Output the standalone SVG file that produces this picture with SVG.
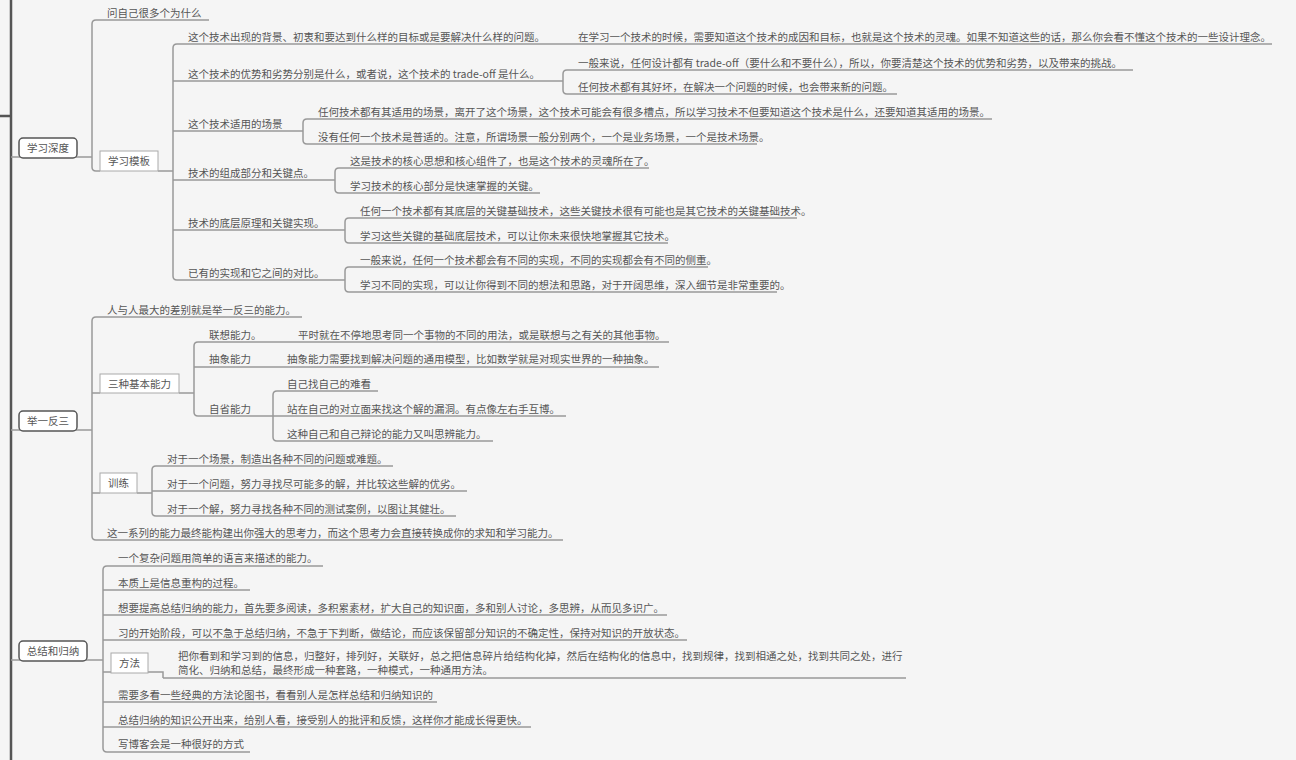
<svg xmlns="http://www.w3.org/2000/svg" width="1296" height="760" viewBox="0 0 1296 760">
  <style>
    .t { font-family: "Noto Sans CJK SC", "Noto Sans", sans-serif; font-size: 10.5px; fill: #555; }
    .c { text-anchor: middle; }
    .ln { stroke: #999; stroke-width: 1.5; fill: none; }
    .spine { stroke: #555; stroke-width: 2.5; fill: none; }
    .main { fill: #fff; stroke: #555; stroke-width: 1.5; }
    .sub { fill: #fff; stroke: #aaa; stroke-width: 1; }
  </style>
  <rect width="1296" height="760" fill="#f5f5f5"/>

  <!-- branch lines: spine, brackets and joins -->
  <g id="connectors">
    <path class="spine" d="M11 0 V760 M0 116 H11"/>
    <path class="ln" d="M11 157 H92 M11 430 H92 M11 660 H103"/>
    <!-- 学习深度 -->
    <path class="ln" d="M96 20 Q92 20 92 24 V167 Q92 171 96 171 H100"/>
    <path class="ln" d="M158 171 H173"/>
    <!-- 学习模板 -->
    <path class="ln" d="M177 44 Q173 44 173 48 V276 Q173 280 177 280"/>
    <path class="ln" d="M550 81 H563 M567 70 Q563 70 563 74 V90 Q563 94 567 94"/>
    <path class="ln" d="M289 131 H303 M307 119 Q303 119 303 123 V140 Q303 144 307 144"/>
    <path class="ln" d="M320 180 H335 M339 168 Q335 168 335 172 V189 Q335 193 339 193"/>
    <path class="ln" d="M330 230 H345 M349 218 Q345 218 345 222 V239 Q345 243 349 243"/>
    <path class="ln" d="M330 280 H345 M349 267 Q345 267 345 271 V288 Q345 292 349 292"/>
    <!-- 举一反三 -->
    <path class="ln" d="M96 317 Q92 317 92 321 V536 Q92 540 96 540"/>
    <path class="ln" d="M92 393 H100 M92 493 H100"/>
    <path class="ln" d="M179 393 H194 M198 342 Q194 342 194 346 V412 Q194 416 198 416"/>
    <path class="ln" d="M277 391 Q273 391 273 395 V437 Q273 441 277 441"/>
    <path class="ln" d="M137 493 H152 M156 466 Q152 466 152 470 V512 Q152 516 156 516"/>
    <!-- 总结和归纳 -->
    <path class="ln" d="M107 566 Q103 566 103 570 V748 Q103 752 107 752"/>
    <path class="ln" d="M103 672 H111 M148 672 H163 V678"/>
  </g>

  <!-- 学习深度 -->
  <g id="topic-depth">
    <rect class="main" x="19" y="138" width="58" height="20" rx="4"/>
    <text class="t c" x="48" y="152">学习深度</text>
  </g>
  <g id="depth-why">
    <path class="ln" d="M96 20 H209"/>
    <text class="t" x="107" y="17">问自己很多个为什么</text>
  </g>
  <g id="depth-template">
    <rect class="sub" x="100" y="151" width="58" height="20"/>
    <text class="t c" x="129" y="165">学习模板</text>
  </g>
  <g id="tpl-background">
    <path class="ln" d="M177 44 H1272"/>
    <text class="t" x="188" y="41">这个技术出现的背景、初衷和要达到什么样的目标或是要解决什么样的问题。</text>
  </g>
  <g id="tpl-background-note">
    <text class="t" x="578" y="41">在学习一个技术的时候，需要知道这个技术的成因和目标，也就是这个技术的灵魂。如果不知道这些的话，那么你会看不懂这个技术的一些设计理念。</text>
  </g>
  <g id="tpl-tradeoff">
    <path class="ln" d="M173 81 H550"/>
    <text class="t" x="188" y="78">这个技术的优势和劣势分别是什么，或者说，这个技术的 trade-off 是什么。</text>
  </g>
  <g id="tpl-tradeoff-a">
    <path class="ln" d="M567 70 H1133"/>
    <text class="t" x="578" y="67">一般来说，任何设计都有 trade-off（要什么和不要什么），所以，你要清楚这个技术的优势和劣势，以及带来的挑战。</text>
  </g>
  <g id="tpl-tradeoff-b">
    <path class="ln" d="M567 94 H897"/>
    <text class="t" x="578" y="91">任何技术都有其好坏，在解决一个问题的时候，也会带来新的问题。</text>
  </g>
  <g id="tpl-scene">
    <path class="ln" d="M173 131 H289"/>
    <text class="t" x="188" y="128">这个技术适用的场景</text>
  </g>
  <g id="tpl-scene-a">
    <path class="ln" d="M307 119 H992"/>
    <text class="t" x="318" y="116">任何技术都有其适用的场景，离开了这个场景，这个技术可能会有很多槽点，所以学习技术不但要知道这个技术是什么，还要知道其适用的场景。</text>
  </g>
  <g id="tpl-scene-b">
    <path class="ln" d="M307 144 H757"/>
    <text class="t" x="318" y="141">没有任何一个技术是普适的。注意，所谓场景一般分别两个，一个是业务场景，一个是技术场景。</text>
  </g>
  <g id="tpl-parts">
    <path class="ln" d="M173 180 H320"/>
    <text class="t" x="188" y="177">技术的组成部分和关键点。</text>
  </g>
  <g id="tpl-parts-a">
    <path class="ln" d="M339 168 H649"/>
    <text class="t" x="350" y="165">这是技术的核心思想和核心组件了，也是这个技术的灵魂所在了。</text>
  </g>
  <g id="tpl-parts-b">
    <path class="ln" d="M339 193 H540"/>
    <text class="t" x="350" y="190">学习技术的核心部分是快速掌握的关键。</text>
  </g>
  <g id="tpl-base">
    <path class="ln" d="M173 230 H330"/>
    <text class="t" x="188" y="227">技术的底层原理和关键实现。</text>
  </g>
  <g id="tpl-base-a">
    <path class="ln" d="M349 218 H797"/>
    <text class="t" x="360" y="215">任何一个技术都有其底层的关键基础技术，这些关键技术很有可能也是其它技术的关键基础技术。</text>
  </g>
  <g id="tpl-base-b">
    <path class="ln" d="M349 243 H668"/>
    <text class="t" x="360" y="240">学习这些关键的基础底层技术，可以让你未来很快地掌握其它技术。</text>
  </g>
  <g id="tpl-compare">
    <path class="ln" d="M177 280 H330"/>
    <text class="t" x="188" y="277">已有的实现和它之间的对比。</text>
  </g>
  <g id="tpl-compare-a">
    <path class="ln" d="M349 267 H708"/>
    <text class="t" x="360" y="264">一般来说，任何一个技术都会有不同的实现，不同的实现都会有不同的侧重。</text>
  </g>
  <g id="tpl-compare-b">
    <path class="ln" d="M349 292 H777"/>
    <text class="t" x="360" y="289">学习不同的实现，可以让你得到不同的想法和思路，对于开阔思维，深入细节是非常重要的。</text>
  </g>

  <!-- 举一反三 -->
  <g id="topic-infer">
    <rect class="main" x="19" y="411" width="58" height="20" rx="4"/>
    <text class="t c" x="48" y="425">举一反三</text>
  </g>
  <g id="infer-gap">
    <path class="ln" d="M96 317 H302"/>
    <text class="t" x="107" y="314">人与人最大的差别就是举一反三的能力。</text>
  </g>
  <g id="infer-abilities">
    <rect class="sub" x="100" y="374" width="79" height="19"/>
    <text class="t c" x="139.5" y="388">三种基本能力</text>
  </g>
  <g id="ability-assoc">
    <path class="ln" d="M198 342 H669"/>
    <text class="t" x="209" y="339">联想能力。</text>
  </g>
  <g id="ability-assoc-note">
    <text class="t" x="298" y="339">平时就在不停地思考同一个事物的不同的用法，或是联想与之有关的其他事物。</text>
  </g>
  <g id="ability-abstract">
    <path class="ln" d="M194 367 H659"/>
    <text class="t" x="209" y="363">抽象能力</text>
  </g>
  <g id="ability-abstract-note">
    <text class="t" x="287" y="363">抽象能力需要找到解决问题的通用模型，比如数学就是对现实世界的一种抽象。</text>
  </g>
  <g id="ability-reflect">
    <path class="ln" d="M198 416 H273"/>
    <text class="t" x="209" y="413">自省能力</text>
  </g>
  <g id="reflect-a">
    <path class="ln" d="M277 391 H378"/>
    <text class="t" x="287" y="388">自己找自己的难看</text>
  </g>
  <g id="reflect-b">
    <path class="ln" d="M273 416 H566"/>
    <text class="t" x="287" y="413">站在自己的对立面来找这个解的漏洞。有点像左右手互博。</text>
  </g>
  <g id="reflect-c">
    <path class="ln" d="M277 441 H493"/>
    <text class="t" x="287" y="438">这种自己和自己辩论的能力又叫思辨能力。</text>
  </g>
  <g id="infer-train">
    <rect class="sub" x="100" y="473" width="37" height="20"/>
    <text class="t c" x="118.5" y="487">训练</text>
  </g>
  <g id="train-a">
    <path class="ln" d="M156 466 H393"/>
    <text class="t" x="167" y="463">对于一个场景，制造出各种不同的问题或难题。</text>
  </g>
  <g id="train-b">
    <path class="ln" d="M152 491 H467"/>
    <text class="t" x="167" y="488">对于一个问题，努力寻找尽可能多的解，并比较这些解的优劣。</text>
  </g>
  <g id="train-c">
    <path class="ln" d="M156 516 H456"/>
    <text class="t" x="167" y="513">对于一个解，努力寻找各种不同的测试案例，以图让其健壮。</text>
  </g>
  <g id="infer-result">
    <path class="ln" d="M96 540 H563"/>
    <text class="t" x="107" y="537">这一系列的能力最终能构建出你强大的思考力，而这个思考力会直接转换成你的求知和学习能力。</text>
  </g>

  <!-- 总结和归纳 -->
  <g id="topic-summary">
    <rect class="main" x="19" y="641" width="68" height="20" rx="4"/>
    <text class="t c" x="53" y="655">总结和归纳</text>
  </g>
  <g id="sum-1">
    <path class="ln" d="M107 566 H323"/>
    <text class="t" x="118" y="562">一个复杂问题用简单的语言来描述的能力。</text>
  </g>
  <g id="sum-2">
    <path class="ln" d="M103 590 H250"/>
    <text class="t" x="118" y="587">本质上是信息重构的过程。</text>
  </g>
  <g id="sum-3">
    <path class="ln" d="M103 615 H667"/>
    <text class="t" x="118" y="612">想要提高总结归纳的能力，首先要多阅读，多积累素材，扩大自己的知识面，多和别人讨论，多思辨，从而见多识广。</text>
  </g>
  <g id="sum-4">
    <path class="ln" d="M103 640 H687"/>
    <text class="t" x="118" y="637">习的开始阶段，可以不急于总结归纳，不急于下判断，做结论，而应该保留部分知识的不确定性，保持对知识的开放状态。</text>
  </g>
  <g id="sum-method">
    <rect class="sub" x="111" y="653" width="37" height="20"/>
    <text class="t c" x="129.5" y="667">方法</text>
  </g>
  <g id="method-note">
    <path class="ln" d="M163 678 H906"/>
    <text class="t" x="178" y="660">把你看到和学习到的信息，归整好，排列好，关联好，总之把信息碎片给结构化掉，然后在结构化的信息中，找到规律，找到相通之处，找到共同之处，进行</text>
    <text class="t" x="178" y="674">简化、归纳和总结，最终形成一种套路，一种模式，一种通用方法。</text>
  </g>
  <g id="sum-6">
    <path class="ln" d="M103 702 H437"/>
    <text class="t" x="118" y="699">需要多看一些经典的方法论图书，看看别人是怎样总结和归纳知识的</text>
  </g>
  <g id="sum-7">
    <path class="ln" d="M103 727 H531"/>
    <text class="t" x="118" y="724">总结归纳的知识公开出来，给别人看，接受别人的批评和反馈，这样你才能成长得更快。</text>
  </g>
  <g id="sum-8">
    <path class="ln" d="M107 752 H250"/>
    <text class="t" x="118" y="748">写博客会是一种很好的方式</text>
  </g>
</svg>
